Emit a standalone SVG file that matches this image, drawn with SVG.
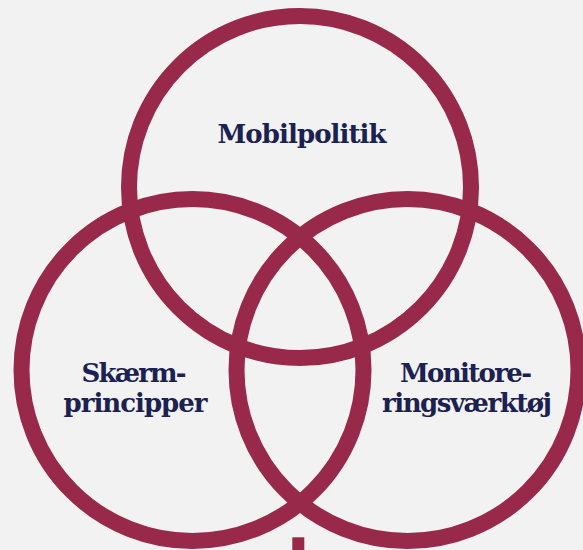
<svg xmlns="http://www.w3.org/2000/svg" width="583" height="550" viewBox="0 0 583 550">
  <style>
    .ring { fill: none; stroke: #98294a; stroke-width: 16; }
    .lbl { font-family: "DejaVu Serif", Georgia, serif; font-weight: bold; font-size: 26px; fill: #1b2150; text-anchor: middle; }
  </style>
  <rect x="0" y="0" width="583" height="550" fill="#f2f2f2"/>
  <g id="connectors"></g>
  <g id="node-mobilpolitik">
    <circle class="ring" cx="300" cy="187" r="171"/>
    <text class="lbl" x="302" y="142.7" textLength="169">Mobilpolitik</text>
  </g>
  <g id="node-skaermprincipper">
    <circle class="ring" cx="192.5" cy="370" r="171"/>
    <text class="lbl" x="134" y="381.7" textLength="105">Skærm-</text>
    <text class="lbl" x="135.5" y="412.3" textLength="144">principper</text>
  </g>
  <g id="node-monitoreringsvaerktoej">
    <circle class="ring" cx="407.5" cy="370" r="171"/>
    <text class="lbl" x="466" y="381.7" textLength="132">Monitore-</text>
    <text class="lbl" x="467" y="411.7" textLength="170">ringsværktøj</text>
  </g>
  <rect x="292.3" y="537.3" width="12" height="13" fill="#98294a"/>
</svg>
